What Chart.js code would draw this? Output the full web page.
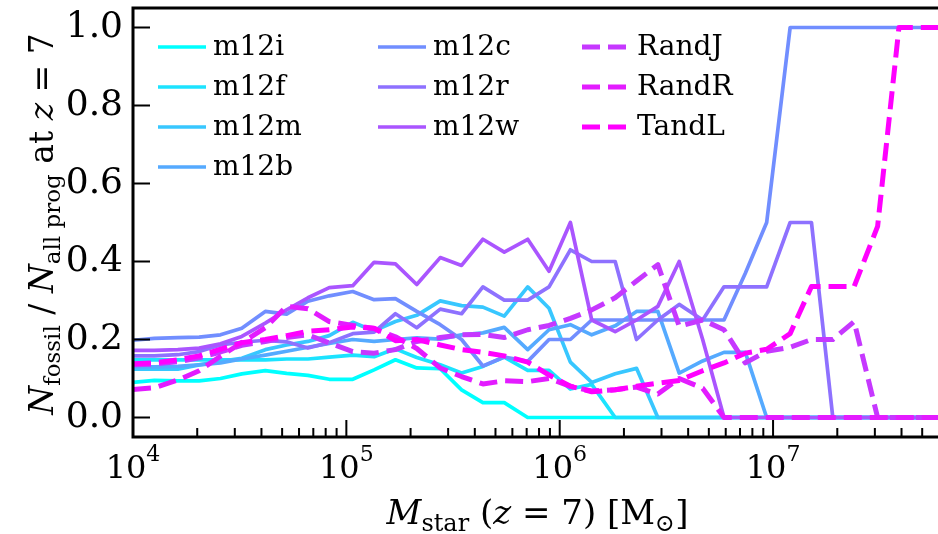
<!DOCTYPE html>
<html>
<head>
<meta charset="utf-8">
<script src="https://cdn.jsdelivr.net/npm/chart.js@4.4.1/dist/chart.umd.min.js"></script>
<style>
html,body{margin:0;padding:0;background:#fff;}
#wrap{width:938px;height:534px;position:relative;}
</style>
</head>
<body>
<div id="wrap"><canvas id="chart1" width="938" height="534"></canvas></div>
<script>
// log10 of M_star (z=7) bin positions
var logMass = [4.00,4.10,4.21,4.31,4.41,4.51,4.62,4.72,4.82,4.92,5.03,5.13,5.23,5.33,5.44,5.54,5.64,5.74,5.85,5.95,
               6.05,6.15,6.26,6.36,6.46,6.56,6.67,6.77,6.87,6.97,7.08,7.18,7.28,7.38,7.49,7.59,7.69,7.79,7.90];

var names = ["m12i","m12f","m12m","m12b","m12c","m12r","m12w","RandJ","RandR","TandL"];
var colores = ["#00FFFF","#1CE3FF","#38C7FF","#55AAFF","#718EFF","#8E71FF","#AA55FF","#C638FF","#E31CFF","#FF00FF"];
var dashed = [false,false,false,false,false,false,false,true,true,true];

var m12i = [0.090,0.095,0.094,0.094,0.100,0.112,0.120,0.113,0.108,0.098,0.098,0.122,0.148,0.127,0.125,0.071,0.038,0.038,0,0,
            0,0,0,0,0,0,0,0,0,0,0,0,0,0,0,0,0,0,0];
var m12f = [0.148,0.148,0.148,0.148,0.148,0.148,0.148,0.150,0.150,0.155,0.160,0.156,0.176,0.154,0.135,0.114,0.131,0.155,0.121,0.121,
            0.073,0.085,0,0,0,0,0,0,0,0,0,0,0,0,0,0,0,0,0];
var m12m = [0.124,0.124,0.124,0.135,0.144,0.152,0.174,0.186,0.195,0.210,0.244,0.222,0.246,0.262,0.299,0.287,0.283,0.260,0.335,0.280,
            0.142,0.090,0.112,0.126,0,0,0,0,0,0,0,0,0,0,0,0,0,0,0];
var m12b = [0.130,0.130,0.131,0.135,0.140,0.150,0.160,0.170,0.180,0.190,0.200,0.195,0.200,0.204,0.201,0.212,0.217,0.231,0.174,0.225,
            0.238,0.212,0.235,0.272,0.272,0.114,0.145,0.167,0.167,0,0,0,0,0,0,0,0,0,0];
var m12c = [0.198,0.203,0.205,0.206,0.212,0.229,0.272,0.265,0.298,0.312,0.323,0.302,0.305,0.272,0.238,0.200,0.132,0.155,0.144,0.200,
            0.200,0.250,0.250,0.250,0.250,0.250,0.250,0.250,0.370,0.500,1,1,1,1,1,1,1,1,1];
var m12r = [0.158,0.158,0.161,0.169,0.186,0.193,0.198,0.194,0.178,0.192,0.215,0.219,0.266,0.230,0.278,0.266,0.335,0.301,0.301,0.335,
            0.430,0.400,0.400,0.200,0.250,0.290,0.250,0.335,0.335,0.335,0.500,0.500,0,0,0,0,0,0,0];
var m12w = [0.172,0.172,0.174,0.178,0.189,0.208,0.242,0.276,0.307,0.333,0.338,0.398,0.394,0.341,0.410,0.390,0.457,0.424,0.457,0.375,
            0.500,0.250,0.220,0.250,0.285,0.400,0.200,0,0,0,0,0,0,0,0,0,0,0,0];
var RandJ = [0.135,0.137,0.143,0.153,0.168,0.185,0.195,0.205,0.212,0.191,0.169,0.165,0.174,0.195,0.205,0.212,0.213,0.205,0.225,0.236,
             0.254,0.276,0.307,0.350,0.392,0.234,0.250,0.225,0.140,0.170,0.180,0.200,0.200,0.246,0,0,0,0,0];
var RandR = [0.072,0.076,0.096,0.120,0.157,0.192,0.230,0.285,0.279,0.246,0.236,0.228,0.207,0.177,0.127,0.105,0.086,0.094,0.092,0.100,
             0.080,0.068,0.071,0.078,0.060,0.100,0.075,0,0,0,0,0,0,0,0,0,0,0,0];
var TandL = [0.138,0.140,0.148,0.158,0.175,0.192,0.200,0.210,0.221,0.225,0.232,0.229,0.197,0.200,0.186,0.174,0.167,0.158,0.142,0.109,
             0.080,0.066,0.071,0.080,0.088,0.095,0.120,0.140,0.165,0.175,0.215,0.336,0.336,0.336,0.490,1,1,1,1];

var series = [m12i,m12f,m12m,m12b,m12c,m12r,m12w,RandJ,RandR,TandL];

var xMin = 1e4;
var xMax = 5.93e7;
var xMajor = [1e4,1e5,1e6,1e7];
var yTicks = [0.0,0.2,0.4,0.6,0.8,1.0];

var SERIF = "'DejaVu Serif', serif";
var DASH = [18, 8];

function armar_datasets(){
    var ds = [];
    for (var i = 0; i < series.length; i++) {
        var pts = [];
        for (var k = 0; k < logMass.length; k++) {
            pts.push({x: Math.pow(10, logMass[k]), y: series[i][k]});
        }
        ds.push({
            label: names[i],
            data: pts,
            borderColor: colores[i],
            backgroundColor: colores[i],
            borderWidth: dashed[i] ? 5 : 3.7,
            borderDash: dashed[i] ? DASH : [],
            borderJoinStyle: 'round',
            pointRadius: 0,
            tension: 0,
            fill: false,
            order: 10 - i
        });
    }
    return ds;
}

// draws a list of [text, font, dy] pieces one after another
function texto_rico(ctx, parts, x, y, align){
    var w = 0;
    parts.forEach(function(p){ ctx.font = p[1]; w += ctx.measureText(p[0]).width; });
    var cx = (align === 'center') ? x - w / 2 : x;
    parts.forEach(function(p){
        ctx.font = p[1];
        ctx.fillText(p[0], cx, y + (p[2] || 0));
        cx += ctx.measureText(p[0]).width;
    });
}

var decor = {
    id: 'decor',
    afterDraw: function(chart){
        var ctx = chart.ctx, a = chart.chartArea;
        var xs = chart.scales.x, ys = chart.scales.y;
        ctx.save();
        ctx.strokeStyle = '#000';
        ctx.fillStyle = '#000';

        // ticks (inward)
        ctx.lineWidth = 2;
        ctx.beginPath();
        xMajor.forEach(function(v){
            var px = xs.getPixelForValue(v);
            ctx.moveTo(px, a.bottom); ctx.lineTo(px, a.bottom - 17);
        });
        for (var d = 1e4; d < xMax; d *= 10) {
            for (var m = 2; m <= 9; m++) {
                if (d * m > xMax) break;
                var px = xs.getPixelForValue(d * m);
                ctx.moveTo(px, a.bottom); ctx.lineTo(px, a.bottom - 9);
            }
        }
        yTicks.forEach(function(v){
            var py = ys.getPixelForValue(v);
            ctx.moveTo(a.left, py); ctx.lineTo(a.left + 17, py);
        });
        ctx.stroke();

        // spines
        ctx.lineWidth = 3;
        ctx.beginPath();
        ctx.moveTo(a.right + 2, a.top); ctx.lineTo(a.left, a.top);
        ctx.lineTo(a.left, a.bottom); ctx.lineTo(a.right + 2, a.bottom);
        ctx.stroke();

        // x tick labels 10^n
        ctx.textBaseline = 'alphabetic';
        xMajor.forEach(function(v){
            var px = xs.getPixelForValue(v);
            var ex = String(Math.round(Math.log10(v)));
            texto_rico(ctx, [["10", "32px " + SERIF, 0], [ex, "22px " + SERIF, -17]], px, 478, 'center');
        });

        // x title
        texto_rico(ctx, [
            ["M", "italic 34px " + SERIF, 0],
            ["star", "24px " + SERIF, 7],
            [" (", "34px " + SERIF, 0],
            ["z", "italic 34px " + SERIF, 0],
            [" = 7) [M", "34px " + SERIF, 0],
            ["\u2299", "24px " + SERIF, 7],
            ["]", "34px " + SERIF, 0]
        ], (a.left + a.right) / 2 + 2, 524, 'center');

        // y title (rotated)
        ctx.save();
        ctx.translate(53, 224);
        ctx.rotate(-Math.PI / 2);
        texto_rico(ctx, [
            ["N", "italic 33px " + SERIF, 0],
            ["fossil", "23px " + SERIF, 7],
            [" / ", "33px " + SERIF, 0],
            ["N", "italic 33px " + SERIF, 0],
            ["all prog", "23px " + SERIF, 7],
            [" at ", "33px " + SERIF, 0],
            ["z", "italic 33px " + SERIF, 0],
            [" = 7", "33px " + SERIF, 0]
        ], 0, 0, 'center');
        ctx.restore();

        // legend, 3 columns filled top to bottom
        var colX = [158, 378, 582];
        var filas = [4, 3, 3];
        var idx = 0;
        ctx.textBaseline = 'middle';
        ctx.font = "28px " + SERIF;
        for (var c = 0; c < 3; c++) {
            for (var r = 0; r < filas[c]; r++) {
                var ly = 47 + r * 40;
                ctx.strokeStyle = colores[idx];
                ctx.lineWidth = dashed[idx] ? 5 : 3.7;
                ctx.setLineDash(dashed[idx] ? DASH : []);
                ctx.beginPath();
                ctx.moveTo(colX[c], ly); ctx.lineTo(colX[c] + 48, ly);
                ctx.stroke();
                ctx.setLineDash([]);
                ctx.fillStyle = '#000';
                ctx.fillText(names[idx], colX[c] + 55, ly + 1);
                idx++;
            }
        }
        ctx.restore();
    }
};

function init(){
    var config = {
        type: 'line',
        data: { datasets: armar_datasets() },
        options: {
            responsive: false,
            animation: false,
            devicePixelRatio: 1,
            layout: { padding: { top: 8, right: 0, left: 0, bottom: 0 } },
            plugins: { legend: { display: false }, tooltip: { enabled: false } },
            scales: {
                x: {
                    type: 'logarithmic',
                    min: xMin,
                    max: xMax,
                    grid: { display: false, drawTicks: false },
                    border: { display: false },
                    ticks: { display: false },
                    afterFit: function(s){ s.height = 97; s.paddingLeft = 0; s.paddingRight = 0; }
                },
                y: {
                    type: 'linear',
                    min: -0.05,
                    max: 1.05,
                    grid: { display: false, drawTicks: false },
                    border: { display: false },
                    afterBuildTicks: function(s){
                        s.ticks = yTicks.map(function(v){ return {value: v}; });
                    },
                    ticks: {
                        padding: 10,
                        color: '#000',
                        font: { family: 'DejaVu Serif', size: 36 },
                        callback: function(v){ return Number(v).toFixed(1); }
                    },
                    afterFit: function(s){ s.width = 133; s.paddingTop = 0; s.paddingBottom = 0; }
                }
            }
        },
        plugins: [decor]
    };
    var canvas = document.getElementById('chart1').getContext('2d');
    window.grafico = new Chart(canvas, config);
}
init();
</script>
</body>
</html>
